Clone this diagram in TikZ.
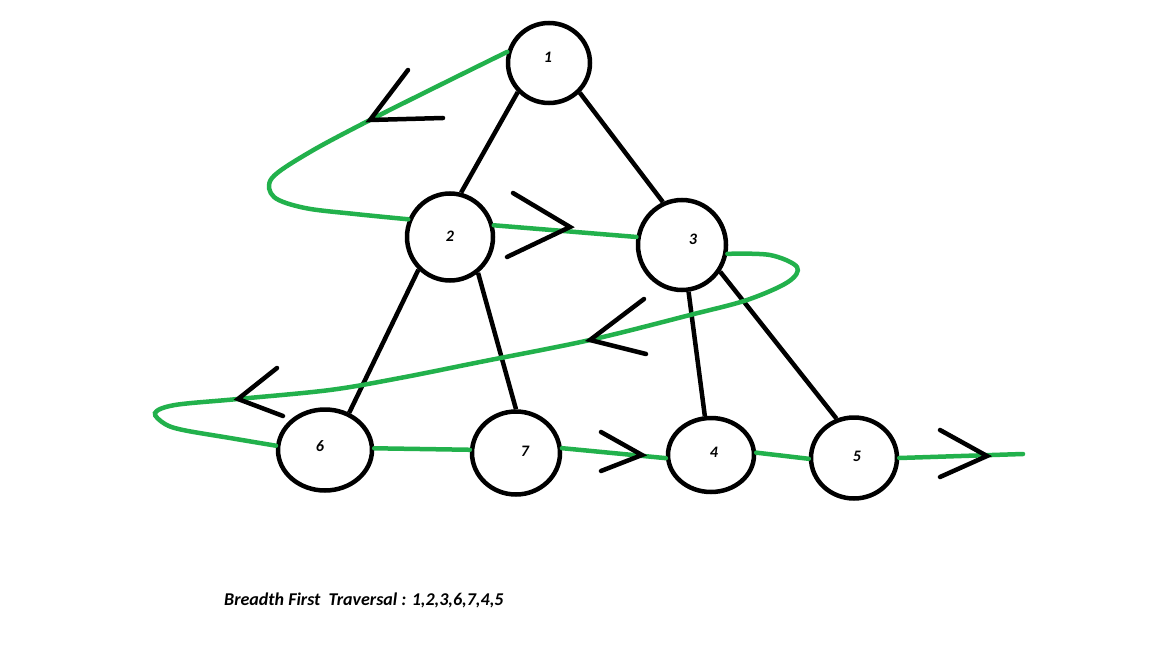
\documentclass[tikz,border=0pt]{standalone}
\usepackage{fontspec}
\setmainfont{Carlito}
\usetikzlibrary{shapes.geometric}
\definecolor{pgreen}{RGB}{34,177,76}
\begin{document}
\begin{tikzpicture}[x=1pt,y=-1pt,
  vtx/.style={ellipse,draw=black,line width=4.5pt,inner sep=0pt},
  lbl/.style={font=\fontsize{16}{16}\selectfont\bfseries\itshape,inner sep=0pt},
  edge/.style={draw=black,line width=4.5pt},
  trav/.style={draw=pgreen,line width=4.5pt,line cap=round},
  chev/.style={draw=black,line width=4.5pt,line cap=round,line join=miter}]
\useasboundingbox[fill=white] (0,0) rectangle (1153,647);
% vertices
\node[vtx,minimum width=82pt,minimum height=80pt] (n1) at (549,63) {};
\node[vtx,minimum width=86pt,minimum height=87pt] (n2) at (450,237) {};
\node[vtx,minimum width=88pt,minimum height=90pt] (n3) at (682,245) {};
\node[vtx,minimum width=94pt,minimum height=81pt] (n6) at (325,450) {};
\node[vtx,minimum width=88pt,minimum height=83pt] (n7) at (516,453) {};
\node[vtx,minimum width=86pt,minimum height=74pt] (n4) at (711,455) {};
\node[vtx,minimum width=86pt,minimum height=81pt] (n5) at (854,458) {};
% labels
\node[lbl] (l1) at (548,57) {1};
\node[lbl] (l2) at (450,236) {2};
\node[lbl] (l3) at (693,239) {3};
\node[lbl] (l6) at (320,446) {6};
\node[lbl] (l7) at (525,451) {7};
\node[lbl] (l4) at (714,452) {4};
\node[lbl] (l5) at (857,456) {5};
% tree edges
\draw[edge] (n1.223) -- (n2.76);
\draw[edge] (n1.316) -- (n3.114);
\draw[edge] (n2.226) -- (n6.57);
\draw[edge] (n2.308) -- (n7.90);
\draw[edge] (n3.278) -- (n4.99);
\draw[edge] (n3.325) -- (n5.114);
% traversal path
\draw[trav] plot[smooth,tension=0.55] coordinates {(n1.165) (440,85) (370,120) (310,152) (272,178) (274,197) (305,208) (355,214) (n2.157)};
\draw[trav] (n2.15) -- (n3.170);
\draw[trav] plot[smooth,tension=0.55] coordinates {(n3.349) (770,255) (797,267) (788,282) (747,300) (690,315) (590,340) (480,362) (400,378) (330,390) (238,399) (175,405) (155,413) (165,424) (183,430) (230,438) (n6.175)};
\draw[trav] (n6.2) -- (n7.176);
\draw[trav] (n7.6) -- (n4.184);
\draw[trav] (n4.3) -- (n5.181);
\coordinate (tail) at (1023,454);
\draw[trav] (n5.0) -- (tail);
% chevrons
\draw[chev] (408,70) -- (370,120) -- (443,118);
\draw[chev] (513,193) -- (570,227) -- (507,257);
\draw[chev] (644,299) -- (590,340) -- (646,354);
\draw[chev] (277,368) -- (238,399) -- (283,416);
\draw[chev] (601,432) -- (642,455) -- (601,471);
\draw[chev] (940,430) -- (987,456) -- (940,477);
% caption
\node[font=\fontsize{18}{18}\selectfont\bfseries\itshape,anchor=west,inner sep=0pt] (cap) at (224,600) {Breadth First\ \ Traversal : 1,2,3,6,7,4,5};
\end{tikzpicture}
\end{document}
